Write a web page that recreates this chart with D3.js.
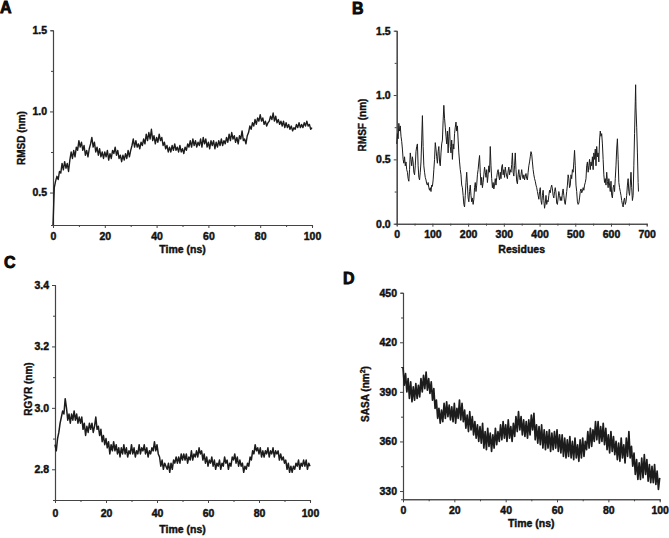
<!DOCTYPE html>
<html><head><meta charset="utf-8">
<script src="https://cdn.jsdelivr.net/npm/d3@7"></script>
<style>
body{margin:0;background:#fff;}
svg text{font-family:"Liberation Sans",Arial,sans-serif;font-weight:bold;fill:#111;}
</style></head>
<body><svg id="c" width="669" height="538"></svg>
<script>
// ---------------- data ----------------
const timeNs = d3.range(0, 100.001, 0.5);
const rmsdNm = [0.30,0.53,0.57,0.60,0.58,0.63,0.62,0.68,0.64,0.69,0.65,0.68,0.63,0.70,0.75,0.71,0.76,0.72,0.78,0.76,
0.82,0.78,0.81,0.76,0.79,0.73,0.76,0.72,0.77,0.80,0.84,0.78,0.81,0.75,0.78,0.73,0.77,0.72,0.75,0.71,
0.75,0.72,0.76,0.70,0.74,0.71,0.76,0.74,0.78,0.73,0.76,0.71,0.73,0.69,0.73,0.70,0.74,0.71,0.76,0.72,
0.76,0.79,0.83,0.78,0.82,0.78,0.80,0.77,0.81,0.79,0.83,0.80,0.86,0.82,0.87,0.83,0.89,0.82,0.85,0.80,
0.84,0.81,0.86,0.82,0.84,0.79,0.81,0.77,0.79,0.75,0.78,0.75,0.79,0.76,0.80,0.76,0.78,0.75,0.79,0.75,
0.77,0.74,0.78,0.76,0.80,0.78,0.82,0.78,0.83,0.79,0.82,0.78,0.81,0.79,0.83,0.78,0.84,0.80,0.83,0.78,
0.81,0.77,0.82,0.79,0.82,0.77,0.81,0.78,0.82,0.79,0.83,0.79,0.82,0.80,0.84,0.81,0.86,0.82,0.87,0.83,
0.85,0.81,0.84,0.80,0.85,0.83,0.88,0.82,0.83,0.80,0.85,0.87,0.91,0.89,0.93,0.91,0.95,0.92,0.96,0.94,
0.98,0.94,0.96,0.92,0.94,0.91,0.93,0.94,0.97,0.95,0.99,0.94,0.97,0.93,0.95,0.92,0.94,0.91,0.94,0.90,
0.93,0.90,0.92,0.89,0.91,0.88,0.90,0.89,0.92,0.90,0.93,0.90,0.92,0.90,0.93,0.91,0.94,0.91,0.92,0.89,0.90];

const residues = [0,2,4,6,8,10,12,14,16,18,20,22,24,26,28,30,32,34,36,38,40,42,44,46,48,50,52,54,56,58,60,62,64,66,68,70,72,74,76,78,80,82,84,86,88,90,92,94,96,98,
100,102,104,106,108,110,112,114,116,118,120,122,124,126,128,130,132,134,136,138,140,142,144,146,148,150,152,154,156,158,160,162,164,166,168,170,172,174,176,178,180,182,184,186,188,190,192,194,196,198,
200,202,204,206,208,210,212,214,216,218,220,222,224,226,228,230,232,234,236,238,240,242,244,246,248,250,252,254,256,258,260,262,264,266,268,270,272,274,276,278,280,282,284,286,288,290,292,294,296,298,
300,302,304,306,308,310,312,314,316,318,320,322,324,326,328,330,332,334,336,338,340,342,344,346,348,350,352,354,356,358,360,362,364,366,368,370,372,374,376,378,380,382,384,386,388,390,392,394,396,398,
400,402,404,406,408,410,412,414,416,418,420,422,424,426,428,430,432,434,436,438,440,442,444,446,448,450,452,454,456,458,460,462,464,466,468,470,472,474,476,478,480,482,484,486,488,490,492,494,496,498,
500,502,504,506,508,510,512,514,516,518,520,522,524,526,528,530,532,534,536,538,540,542,544,546,548,550,552,554,556,558,560,562,564,566,568,570,572,574,576,578,580,582,584,586,588,590,592,594,596,598,
600,602,604,606,608,610,612,614,616,618,620,622,624,626,628,630,632,634,636,638,640,642,644,646,648,650,652,654,656,658,660,662,664,666,668,669,670,672,674,676,677];
const rmsfNm = [0.62,0.70,0.66,0.78,0.72,0.76,0.68,0.64,0.58,0.50,0.47,0.52,0.45,0.48,0.42,0.40,0.35,0.33,0.42,0.55,0.50,0.45,0.52,0.48,0.40,0.38,0.45,0.56,0.60,0.62,0.45,0.36,0.34,0.40,0.48,0.65,0.84,0.60,0.45,0.40,0.36,0.34,0.31,0.30,0.32,0.28,0.26,0.28,0.25,0.30,
0.29,0.34,0.42,0.50,0.63,0.58,0.52,0.47,0.56,0.60,0.48,0.45,0.55,0.62,0.65,0.80,0.92,0.82,0.75,0.68,0.62,0.72,0.55,0.68,0.75,0.60,0.55,0.65,0.50,0.62,0.58,0.70,0.75,0.79,0.72,0.76,0.65,0.55,0.48,0.42,0.38,0.30,0.28,0.22,0.15,0.13,0.22,0.32,0.40,0.30,
0.20,0.17,0.25,0.30,0.22,0.17,0.20,0.15,0.19,0.28,0.32,0.25,0.30,0.38,0.42,0.48,0.53,0.40,0.30,0.36,0.28,0.32,0.38,0.44,0.40,0.36,0.42,0.32,0.38,0.45,0.40,0.60,0.45,0.35,0.28,0.32,0.27,0.30,0.35,0.30,0.36,0.40,0.42,0.37,0.34,0.40,0.35,0.44,0.46,0.38,
0.42,0.36,0.44,0.40,0.37,0.35,0.41,0.44,0.38,0.42,0.40,0.46,0.55,0.40,0.37,0.45,0.55,0.42,0.33,0.31,0.38,0.42,0.36,0.34,0.38,0.42,0.37,0.35,0.38,0.34,0.37,0.39,0.35,0.34,0.40,0.45,0.48,0.52,0.56,0.54,0.48,0.42,0.38,0.35,0.33,0.30,0.28,0.25,0.22,0.19,
0.25,0.28,0.18,0.15,0.22,0.26,0.18,0.12,0.16,0.22,0.15,0.18,0.17,0.22,0.26,0.24,0.28,0.30,0.27,0.22,0.20,0.25,0.28,0.24,0.16,0.15,0.20,0.25,0.22,0.18,0.21,0.18,0.24,0.27,0.22,0.17,0.15,0.20,0.25,0.30,0.38,0.35,0.28,0.30,0.38,0.35,0.42,0.40,0.48,0.57,
0.45,0.30,0.25,0.17,0.15,0.16,0.20,0.25,0.27,0.24,0.25,0.28,0.26,0.30,0.32,0.35,0.45,0.48,0.40,0.45,0.50,0.42,0.48,0.45,0.52,0.42,0.55,0.50,0.58,0.45,0.60,0.52,0.55,0.48,0.65,0.72,0.68,0.70,0.62,0.50,0.38,0.32,0.35,0.30,0.40,0.33,0.28,0.35,0.30,0.25,
0.33,0.22,0.20,0.28,0.30,0.25,0.35,0.45,0.58,0.66,0.50,0.32,0.28,0.25,0.22,0.18,0.15,0.13,0.18,0.20,0.15,0.17,0.22,0.30,0.35,0.25,0.22,0.30,0.40,0.28,0.18,0.22,0.45,0.70,0.95,1.08,0.90,0.75,0.55,0.32,0.25];

const rgyrNm = [2.88,2.86,2.90,2.92,2.95,2.97,2.99,2.98,3.03,3.00,2.96,2.98,2.95,2.98,2.96,2.99,2.96,2.98,2.95,2.97,
2.95,2.97,2.93,2.95,2.91,2.94,2.92,2.95,2.93,2.95,2.92,2.94,2.97,2.93,2.94,2.91,2.93,2.89,2.91,2.88,
2.90,2.87,2.89,2.85,2.88,2.86,2.89,2.86,2.88,2.85,2.87,2.84,2.87,2.85,2.88,2.85,2.87,2.84,2.86,2.85,
2.88,2.85,2.87,2.84,2.86,2.85,2.88,2.85,2.87,2.86,2.88,2.85,2.87,2.84,2.86,2.85,2.87,2.86,2.89,2.86,
2.88,2.85,2.84,2.81,2.83,2.80,2.82,2.81,2.80,2.82,2.79,2.82,2.80,2.83,2.82,2.84,2.82,2.84,2.82,2.85,
2.83,2.85,2.83,2.85,2.82,2.84,2.83,2.86,2.83,2.85,2.84,2.86,2.84,2.87,2.85,2.86,2.83,2.85,2.82,2.84,
2.81,2.83,2.82,2.84,2.81,2.83,2.80,2.82,2.81,2.83,2.80,2.82,2.81,2.84,2.82,2.83,2.80,2.82,2.81,2.84,
2.83,2.85,2.82,2.84,2.81,2.83,2.81,2.82,2.79,2.81,2.80,2.82,2.81,2.84,2.83,2.86,2.85,2.88,2.86,2.87,
2.85,2.87,2.84,2.86,2.84,2.86,2.85,2.87,2.84,2.86,2.85,2.87,2.84,2.86,2.85,2.86,2.83,2.85,2.83,2.84,
2.82,2.83,2.80,2.82,2.79,2.81,2.79,2.81,2.80,2.82,2.81,2.83,2.80,2.82,2.81,2.83,2.81,2.83,2.80,2.82,2.81];

const sasaNm2 = [405,394,401,390,398,386,396,384,393,385,395,386,394,387,398,390,400,392,402,391,
398,389,396,385,392,380,385,374,380,371,379,372,383,374,384,375,382,373,381,372,
383,371,380,374,385,373,383,372,379,368,376,366,378,367,375,364,372,362,370,360,
369,359,371,356,366,355,368,357,365,354,364,356,368,358,366,360,370,361,372,362,
370,360,373,362,369,360,371,363,375,366,378,367,375,364,373,363,372,362,373,364,
376,367,377,361,370,359,369,358,370,356,367,355,366,356,367,354,365,355,366,356,
367,354,364,353,364,351,362,350,361,351,363,350,360,349,362,350,358,348,361,350,
362,351,360,355,366,356,368,357,367,360,372,361,372,359,369,360,371,358,368,355,
364,353,366,354,363,352,360,349,359,348,362,350,358,347,362,351,366,350,357,345,
353,340,349,337,347,337,350,338,352,340,349,336,346,335,345,335,346,334,342,331,338];

const timeTicks = [0,20,40,60,80,100];
const residueTicks = [0,100,200,300,400,500,600,700];

// ---------------- drawing ----------------
const svg = d3.select("#c");

function panel(o){
  const g = svg.append("g");
  const x = d3.scaleLinear().domain(o.xDom).range([o.x0, o.x1]);
  const y = d3.scaleLinear().domain(o.yDom).range([o.yB, o.yT]);
  const xMinor = d3.axisBottom(x).tickValues(o.xMinor).tickSize(2).tickFormat("");
  const yMinor = d3.axisLeft(y).tickValues(o.yMinor).tickSize(2).tickFormat("");
  g.append("g").attr("transform",`translate(0,${o.yB})`).call(xMinor);
  g.append("g").attr("transform",`translate(${o.x0},0)`).call(yMinor);
  const xa = g.append("g").attr("transform",`translate(0,${o.yB})`)
    .call(d3.axisBottom(x).tickValues(o.xTicks).tickSize(3).tickSizeOuter(0).tickPadding(o.xPad).tickFormat(d3.format("d")));
  const ya = g.append("g").attr("transform",`translate(${o.x0},0)`)
    .call(d3.axisLeft(y).tickValues(o.yTicks).tickSize(3).tickSizeOuter(0).tickPadding(3).tickFormat(d3.format(o.yFmt)));
  g.selectAll(".domain").attr("stroke","#444").attr("stroke-width",1.1);
  g.selectAll(".tick line").attr("stroke","#444");
  [xa,ya].forEach(a=>a.selectAll("text").attr("font-size",10.5).attr("font-family",'"Liberation Sans",Arial,sans-serif')
    .attr("font-weight","bold").attr("fill","#111").attr("stroke","#111").attr("stroke-width",0.45));
  const line = d3.line().x((d,i)=>x(o.xs[i])).y(d=>y(d));
  g.append("path").datum(o.ys).attr("d",line).attr("fill","none")
    .attr("stroke","#1c1c1c").attr("stroke-width",o.lw).attr("stroke-linejoin","round");
  g.append("text").attr("x",(o.x0+o.x1)/2).attr("y",o.xtY).attr("text-anchor","middle")
    .attr("font-size",10.5).attr("stroke","#111").attr("stroke-width",0.4).text(o.xTitle);
  const yt = g.append("text").attr("transform",`translate(${o.ytX},${o.ytY}) rotate(-90)`)
    .attr("text-anchor","middle").attr("font-size",10).attr("stroke","#111").attr("stroke-width",0.4);
  if(o.sup){
    yt.append("tspan").text(o.yTitle);
    yt.append("tspan").attr("font-size",7).attr("dy",-4).text("2");
    yt.append("tspan").attr("dy",4).text(")");
  } else yt.text(o.yTitle);
  g.append("text").attr("x",o.lx).attr("y",o.ly).attr("font-size",16).attr("stroke","#000").attr("stroke-width",0.8).text(o.letter);
}

panel({letter:"A",lx:0,ly:13,xs:timeNs,ys:rmsdNm,xDom:[0,100],yDom:[0.3,1.5],x0:53,x1:312,yT:30.3,yB:225,
  xTicks:timeTicks,xMinor:[10,30,50,70,90],yTicks:[0.5,1.0,1.5],yMinor:[0.75,1.25],yFmt:".1f",xPad:5,
  xTitle:"Time (ns)",xtY:253,yTitle:"RMSD (nm)",ytX:25,ytY:138,lw:1.4});
panel({letter:"B",lx:352,ly:14,xs:residues,ys:rmsfNm,xDom:[0,700],yDom:[0,1.5],x0:396.7,x1:646.7,yT:30.7,yB:223.7,
  xTicks:residueTicks,xMinor:[50,150,250,350,450,550,650],yTicks:[0,0.5,1.0,1.5],yMinor:[0.25,0.75,1.25],yFmt:".1f",xPad:4,
  xTitle:"Residues",xtY:253,yTitle:"RMSF (nm)",ytX:366,ytY:125,lw:1});
panel({letter:"C",lx:4,ly:268,xs:timeNs,ys:rgyrNm,xDom:[0,100],yDom:[2.7,3.4],x0:55,x1:310,yT:285,yB:500,
  xTicks:timeTicks,xMinor:[10,30,50,70,90],yTicks:[2.8,3.0,3.2,3.4],yMinor:[2.9,3.1,3.3],yFmt:".1f",xPad:7,
  xTitle:"Time (ns)",xtY:533,yTitle:"RGYR (nm)",ytX:32,ytY:389,lw:1.5});
panel({letter:"D",lx:343,ly:284,xs:timeNs,ys:sasaNm2,xDom:[0,100],yDom:[325,450],x0:403,x1:659.7,yT:292.7,yB:499.3,
  xTicks:timeTicks,xMinor:[10,30,50,70,90],yTicks:[330,360,390,420,450],yMinor:[345,375,405,435],yFmt:"d",xPad:4,
  xTitle:"Time (ns)",xtY:527,yTitle:"SASA (nm",sup:true,ytX:369,ytY:394,lw:1.7});
</script></body></html>
